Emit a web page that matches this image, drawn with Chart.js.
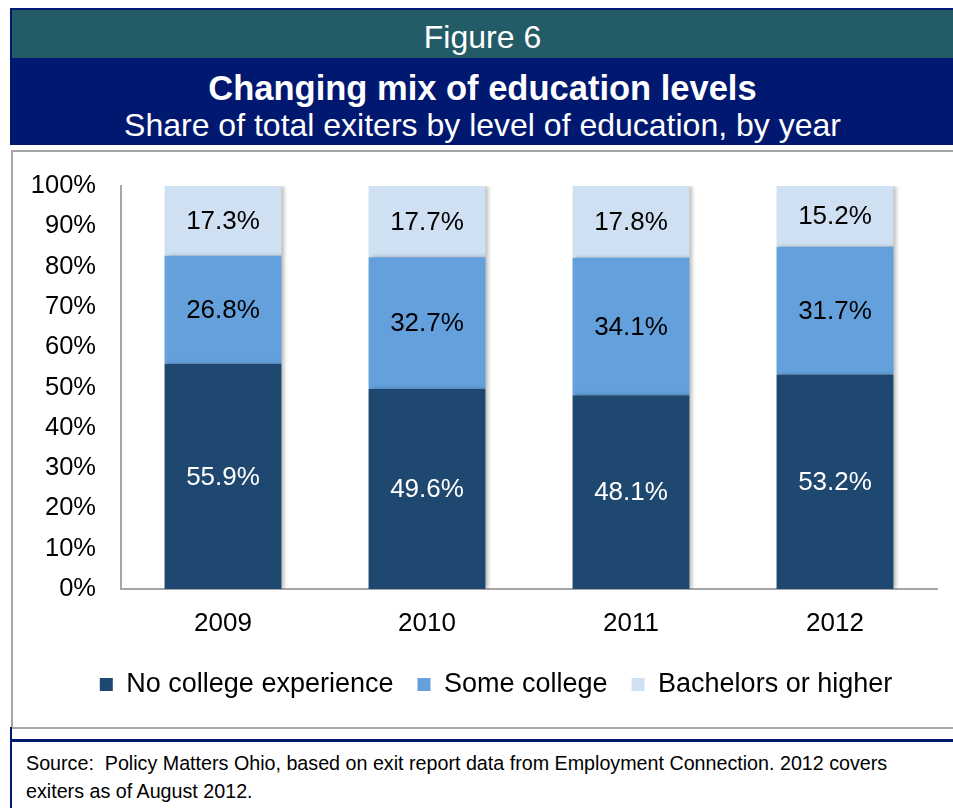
<!DOCTYPE html>
<html>
<head>
<meta charset="utf-8">
<script src="https://cdn.jsdelivr.net/npm/chart.js@4"></script>
<style>
  body { margin: 0; background: #fff; font-family: "Liberation Sans", Arial, sans-serif; }
  #page { position: relative; width: 953px; height: 808px; overflow: hidden; }
  .navy { position: absolute; background: #00186F; }
  #teal { position: absolute; left: 12px; top: 10px; width: 941px; height: 48px; background: #235B67;
          color: #fff; font-size: 32px; text-align: center; line-height: 54px; }
  #titles { position: absolute; left: 12px; top: 58px; width: 941px; height: 87px; color: #fff; text-align: center; }
  #title { font-weight: bold; font-size: 34.5px; line-height: 36px; margin-top: 12px; }
  #subtitle { font-size: 32px; line-height: 36px; margin-top: 1px; }
  #frame { position: absolute; left: 11px; top: 150px; width: 942px; height: 575px;
           border-top: 2px solid #A6A6A6; border-left: 2px solid #A6A6A6; border-bottom: 2px solid #A6A6A6; }
  #box { position: absolute; left: 13px; top: 160px; width: 935px; height: 560px; }
  #source { position: absolute; left: 26px; top: 749px; font-size: 19.7px; line-height: 28px; color: #000; }
</style>
</head>
<body>
<div id="page">
  <div class="navy" style="left:10px;top:8px;width:943px;height:137px;"></div>
  <div id="teal">Figure 6</div>
  <div id="titles">
    <div id="title">Changing mix of education levels</div>
    <div id="subtitle">Share of total exiters by level of education, by year</div>
  </div>
  <div id="frame"></div>
  <div class="navy" style="left:10px;top:727px;width:2px;height:81px;"></div>
  <div class="navy" style="left:10px;top:739px;width:943px;height:3px;"></div>
  <div id="source">Source:&nbsp; Policy Matters Ohio, based on exit report data from Employment Connection. 2012 covers<br>exiters as of August 2012.</div>
  <div id="box"><canvas id="myChart"></canvas></div>
</div>
<script>
var years = ["2009", "2010", "2011", "2012"];
var noCollege = [55.9, 49.6, 48.1, 53.2];
var someCollege = [26.8, 32.7, 34.1, 31.7];
var bachelors = [17.3, 17.7, 17.8, 15.2];
var yTicks = [0, 10, 20, 30, 40, 50, 60, 70, 80, 90, 100];

var fontFam = '"Liberation Sans", Arial, sans-serif';

// soft shadow to the right of the bars, like the original
var shadowPlugin = {
    id: 'barShadow',
    beforeDatasetsDraw(chart) {
        let c = chart.ctx;
        c.save();
        c.shadowColor = 'rgba(0,0,0,0.28)';
        c.shadowOffsetX = 3;
        c.shadowOffsetY = 0;
        c.shadowBlur = 4;
    },
    afterDatasetsDraw(chart) {
        chart.ctx.restore();
    }
};

var labelPlugin = {
    id: 'segLabels',
    afterDatasetsDraw(chart) {
        let c = chart.ctx;
        c.save();
        c.font = '26px ' + fontFam;
        c.textAlign = 'center';
        c.textBaseline = 'middle';
        chart.data.datasets.forEach((ds, i) => {
            let meta = chart.getDatasetMeta(i);
            c.fillStyle = i == 0 ? '#ffffff' : '#000000';
            meta.data.forEach((bar, j) => {
                let p = bar.getProps(['x', 'y', 'base'], true);
                c.fillText(ds.data[j].toFixed(1) + '%', p.x, (p.y + p.base) / 2 + 1);
            });
        });
        c.restore();
    }
};

// legend in the original sits a bit right of the canvas centre
var legendShift = {
    id: 'legendShift',
    afterLayout(chart) {
        chart.legend.left += 21;
        chart.legend.right += 21;
    }
};

var ctx = document.getElementById('myChart');
var myChart = new Chart(ctx, {
    type: 'bar',
    data: {
        labels: years,
        datasets: [
            { label: 'No college experience', data: noCollege, backgroundColor: '#1F4870' },
            { label: 'Some college', data: someCollege, backgroundColor: '#63A0DC' },
            { label: 'Bachelors or higher', data: bachelors, backgroundColor: '#CFE0F2' }
        ]
    },
    options: {
        responsive: true,
        maintainAspectRatio: false,
        animation: false,
        layout: { padding: { top: 26, right: 11, bottom: 12, left: 0 } },
        datasets: { bar: { barPercentage: 0.573, categoryPercentage: 1, borderWidth: 0 } },
        plugins: {
            legend: {
                position: 'bottom',
                labels: {
                    boxWidth: 13, boxHeight: 13, padding: 24, color: '#000',
                    font: { size: 27, family: fontFam }
                }
            },
            tooltip: { enabled: false },
            title: { display: false }
        },
        scales: {
            x: {
                stacked: true,
                grid: { display: false, drawTicks: false },
                border: { color: '#A6A6A6', width: 2 },
                ticks: { color: '#000', padding: 19, font: { size: 26, family: fontFam } },
                afterFit(axis) { axis.height = 58; }
            },
            y: {
                stacked: true,
                min: 0, max: 100,
                grid: { display: false, drawTicks: false },
                border: { color: '#A6A6A6', width: 2 },
                afterBuildTicks(axis) { axis.ticks = yTicks.map(v => ({ value: v })); },
                ticks: {
                    color: '#000', padding: 25,
                    font: { size: 25.5, family: fontFam },
                    callback: v => v + '%'
                },
                afterFit(axis) {
                    axis.width = 108;
                    axis.paddingTop = 10;
                    axis.paddingBottom = 10;
                }
            }
        }
    },
    plugins: [shadowPlugin, labelPlugin, legendShift]
});
</script>
</body>
</html>
